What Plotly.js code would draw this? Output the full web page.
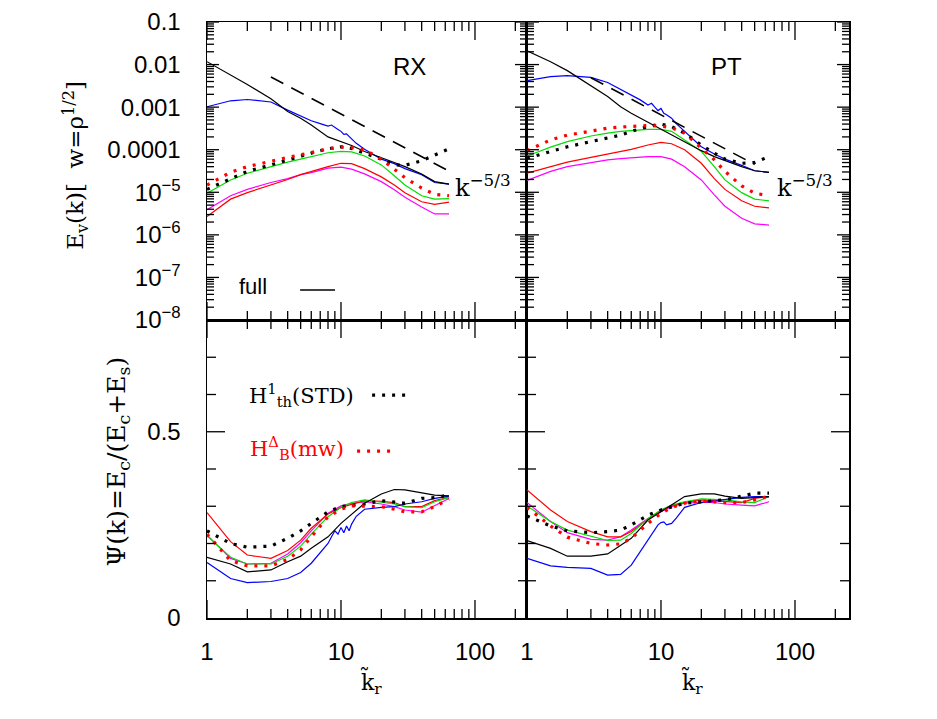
<!DOCTYPE html>
<html>
<head>
<meta charset="utf-8">
<script src="https://cdn.plot.ly/plotly-3.0.1.min.js"></script>
<style>
  html, body { margin: 0; padding: 0; background: #fff; }
  #chart { width: 937px; height: 719px; }
</style>
</head>
<body>
<div id="chart"></div>
<script>
// wavenumbers shared by most curves; blue curves are sampled a bit finer (they are noisy near k~10)
var k  = [1, 1.5, 2, 3, 4, 5, 6, 8, 10, 12, 15, 20, 25, 30, 40, 50, 64];
var kb = [1, 1.5, 2, 3, 4, 5, 6, 7, 8, 8.5, 9, 9.5, 10, 10.5, 11, 11.5, 12, 13, 15, 20, 25, 30, 40, 50, 64];

// --- velocity spectra, RX panel
var rxBlack    = [1.17e-2, 5.8e-3, 3.4e-3, 1.58e-3, 7.9e-4, 5.5e-4, 3.8e-4, 2.0e-4, 1.55e-4, 1.26e-4, 9.1e-5, 6.6e-5, 5.0e-5, 4.0e-5, 2.7e-5, 1.78e-5, 1.55e-5];
var rxBlue     = [1.02e-3, 1.41e-3, 1.51e-3, 1.32e-3, 8.5e-4, 6.2e-4, 4.8e-4, 4.1e-4, 3.6e-4, 3.8e-4, 3.3e-4, 3.0e-4, 2.7e-4, 2.3e-4, 2.35e-4, 2.0e-4, 1.8e-4, 1.41e-4, 1.02e-4, 6.0e-5, 4.7e-5, 3.6e-5, 2.6e-5, 1.7e-5, 1.55e-5];
var rxRedDot   = [1.48e-5, 2.95e-5, 4.0e-5, 5.5e-5, 6.6e-5, 7.6e-5, 8.5e-5, 1.05e-4, 1.15e-4, 1.12e-4, 1.0e-4, 6.0e-5, 3.5e-5, 2.2e-5, 1.26e-5, 8.9e-6, 8.3e-6];
var rxGreen    = [9.5e-6, 1.95e-5, 2.8e-5, 4.0e-5, 5.1e-5, 6.0e-5, 6.9e-5, 8.5e-5, 9.1e-5, 8.9e-5, 7.1e-5, 4.4e-5, 2.45e-5, 1.48e-5, 8.3e-6, 6.9e-6, 7.1e-6];
var rxBlackDot = [1.17e-5, 2.1e-5, 3.1e-5, 4.4e-5, 5.8e-5, 6.9e-5, 8.3e-5, 1.05e-4, 1.17e-4, 1.07e-4, 8.3e-5, 6.0e-5, 4.4e-5, 4.3e-5, 5.5e-5, 7.6e-5, 1.05e-4];
var rxMagenta  = [3.9e-6, 8.3e-6, 1.17e-5, 1.7e-5, 2.1e-5, 2.6e-5, 2.9e-5, 3.7e-5, 3.9e-5, 3.5e-5, 2.7e-5, 1.78e-5, 1.15e-5, 7.6e-6, 4.5e-6, 3.1e-6, 3.1e-6];
var rxRed      = [2.7e-6, 6.9e-6, 9.8e-6, 1.48e-5, 2.0e-5, 2.6e-5, 3.1e-5, 4.0e-5, 4.8e-5, 4.7e-5, 3.6e-5, 2.3e-5, 1.48e-5, 9.8e-6, 6.0e-6, 5.2e-6, 5.9e-6];

// --- velocity spectra, PT panel
var ptBlack    = [2.1e-2, 1.17e-2, 7.2e-3, 3.2e-3, 1.78e-3, 1.02e-3, 7.2e-4, 4.4e-4, 3.0e-4, 2.2e-4, 1.55e-4, 9.5e-5, 6.9e-5, 5.5e-5, 4.0e-5, 3.2e-5, 2.95e-5];
var ptBlue     = [4.2e-3, 5.2e-3, 5.5e-3, 5.0e-3, 3.8e-3, 2.6e-3, 1.95e-3, 1.48e-3, 1.12e-3, 1.23e-3, 1.0e-3, 8.3e-4, 9.3e-4, 7.2e-4, 6.6e-4, 6.0e-4, 5.5e-4, 4.1e-4, 2.7e-4, 1.17e-4, 7.9e-5, 6.0e-5, 4.3e-5, 3.2e-5, 2.95e-5];
var ptRedDot   = [9.5e-5, 1.7e-4, 2.2e-4, 2.8e-4, 3.2e-4, 3.4e-4, 3.5e-4, 3.7e-4, 3.6e-4, 3.3e-4, 2.45e-4, 1.07e-4, 5.8e-5, 3.1e-5, 1.41e-5, 9.5e-6, 8.3e-6];
var ptGreen    = [7.1e-5, 1.15e-4, 1.55e-4, 2.1e-4, 2.45e-4, 2.7e-4, 2.8e-4, 3.0e-4, 3.0e-4, 2.7e-4, 1.7e-4, 9.1e-5, 4.0e-5, 1.95e-5, 9.8e-6, 6.9e-6, 6.3e-6];
var ptBlackDot = [6.3e-5, 9.1e-5, 1.17e-4, 1.55e-4, 1.86e-4, 2.2e-4, 2.7e-4, 3.5e-4, 4.0e-4, 3.5e-4, 2.45e-4, 1.29e-4, 8.3e-5, 6.0e-5, 4.8e-5, 5.0e-5, 6.9e-5];
var ptRed      = [2.8e-5, 4.0e-5, 5.1e-5, 6.6e-5, 7.9e-5, 9.1e-5, 1.02e-4, 1.29e-4, 1.48e-4, 1.38e-4, 1.0e-4, 4.8e-5, 2.1e-5, 1.17e-5, 6.3e-6, 4.7e-6, 4.3e-6];
var ptMagenta  = [1.9e-5, 3.1e-5, 4.0e-5, 5.0e-5, 5.8e-5, 6.2e-5, 6.5e-5, 6.9e-5, 6.9e-5, 6.0e-5, 4.0e-5, 1.95e-5, 8.7e-6, 4.7e-6, 2.45e-6, 1.82e-6, 1.7e-6];

// k^-5/3 guide lines (end points)
var rxRefK = [3, 62];
var rxRef  = [5.1e-3, 3.3e-5];
var ptRefK = [3, 50];
var ptRef  = [4.9e-3, 4.5e-5];

// --- compressive ratio Psi(k), RX panel
var rxBlackPsi    = [0.163, 0.145, 0.124, 0.129, 0.151, 0.166, 0.187, 0.218, 0.254, 0.279, 0.308, 0.333, 0.345, 0.344, 0.335, 0.330, 0.328];
var rxBluePsi     = [0.149, 0.106, 0.095, 0.098, 0.106, 0.122, 0.147, 0.174, 0.200, 0.218, 0.234, 0.225, 0.243, 0.229, 0.247, 0.234, 0.252, 0.273, 0.292, 0.297, 0.299, 0.306, 0.312, 0.321, 0.327];
var rxRedPsi      = [0.283, 0.205, 0.169, 0.160, 0.181, 0.209, 0.241, 0.279, 0.297, 0.306, 0.315, 0.313, 0.310, 0.299, 0.299, 0.315, 0.324];
var rxGreenPsi    = [0.220, 0.163, 0.145, 0.145, 0.166, 0.193, 0.225, 0.272, 0.297, 0.310, 0.317, 0.310, 0.306, 0.299, 0.296, 0.312, 0.324];
var rxMagentaPsi  = [0.223, 0.160, 0.145, 0.147, 0.172, 0.202, 0.234, 0.281, 0.301, 0.308, 0.312, 0.306, 0.299, 0.290, 0.284, 0.301, 0.321];
var rxRedDotPsi   = [0.225, 0.154, 0.140, 0.140, 0.157, 0.183, 0.218, 0.272, 0.292, 0.301, 0.300, 0.299, 0.292, 0.285, 0.285, 0.299, 0.319];
var rxBlackDotPsi = [0.234, 0.200, 0.190, 0.193, 0.214, 0.234, 0.254, 0.285, 0.299, 0.302, 0.306, 0.315, 0.312, 0.308, 0.321, 0.323, 0.330];

// --- compressive ratio Psi(k), PT panel
var ptBlackPsi    = [0.208, 0.187, 0.166, 0.166, 0.172, 0.196, 0.214, 0.263, 0.285, 0.303, 0.326, 0.333, 0.333, 0.327, 0.321, 0.323, 0.326];
var ptBluePsi     = [0.160, 0.140, 0.136, 0.133, 0.115, 0.117, 0.142, 0.178, 0.209, 0.225, 0.240, 0.250, 0.256, 0.258, 0.250, 0.251, 0.254, 0.268, 0.297, 0.310, 0.315, 0.318, 0.324, 0.326, 0.326];
var ptRedPsi      = [0.344, 0.290, 0.259, 0.232, 0.218, 0.218, 0.232, 0.265, 0.290, 0.301, 0.310, 0.317, 0.315, 0.314, 0.310, 0.321, 0.326];
var ptGreenPsi    = [0.301, 0.259, 0.236, 0.220, 0.208, 0.209, 0.227, 0.267, 0.290, 0.303, 0.312, 0.320, 0.318, 0.317, 0.312, 0.310, 0.326];
var ptMagentaPsi  = [0.310, 0.259, 0.229, 0.211, 0.209, 0.218, 0.236, 0.267, 0.285, 0.299, 0.308, 0.311, 0.310, 0.306, 0.303, 0.301, 0.312];
var ptRedDotPsi   = [0.297, 0.247, 0.217, 0.200, 0.196, 0.199, 0.214, 0.254, 0.281, 0.297, 0.308, 0.314, 0.312, 0.310, 0.310, 0.317, 0.327];
var ptBlackDotPsi = [0.274, 0.247, 0.234, 0.229, 0.232, 0.236, 0.250, 0.276, 0.290, 0.299, 0.308, 0.312, 0.315, 0.317, 0.327, 0.335, 0.335];

// y tick labels of the spectrum axis
var eTickVals = [1e-8, 1e-7, 1e-6, 1e-5, 1e-4, 1e-3, 1e-2, 1e-1];
var eTickText = ["10<sup>\u22128</sup>", "10<sup>\u22127</sup>", "10<sup>\u22126</sup>", "10<sup>\u22125</sup>",
                 "0.0001", "0.001", "0.01", "0.1"];

var BLUE = "#0000ff", RED = "#ff0000", GREEN = "#00dd00", MAG = "#ff00ff";
var DOTS = "3px,7px";

function curve(x, y, xa, ya, color, dotted) {
  return {
    x: x, y: y, xaxis: xa, yaxis: ya, type: "scatter", mode: "lines",
    line: dotted ? {color: color, width: 3.2, dash: DOTS} : {color: color, width: 1.2},
    hoverinfo: "skip"
  };
}

var data = [
  curve(k, rxMagenta, "x", "y", MAG), curve(k, rxRed, "x", "y", RED),
  curve(k, rxGreen, "x", "y", GREEN), curve(kb, rxBlue, "x", "y", BLUE),
  curve(k, rxBlack, "x", "y", "#000"),
  curve(k, rxBlackDot, "x", "y", "#000", true), curve(k, rxRedDot, "x", "y", RED, true),
  {x: rxRefK, y: rxRef, xaxis: "x", yaxis: "y", mode: "lines",
   line: {color: "#000", width: 1.6, dash: "14px,9px"}, hoverinfo: "skip"},

  curve(k, ptMagenta, "x2", "y2", MAG), curve(k, ptRed, "x2", "y2", RED),
  curve(k, ptGreen, "x2", "y2", GREEN), curve(kb, ptBlue, "x2", "y2", BLUE),
  curve(k, ptBlack, "x2", "y2", "#000"),
  curve(k, ptBlackDot, "x2", "y2", "#000", true), curve(k, ptRedDot, "x2", "y2", RED, true),
  {x: ptRefK, y: ptRef, xaxis: "x2", yaxis: "y2", mode: "lines",
   line: {color: "#000", width: 1.6, dash: "14px,9px"}, hoverinfo: "skip"},

  curve(k, rxMagentaPsi, "x3", "y3", MAG), curve(k, rxRedPsi, "x3", "y3", RED),
  curve(k, rxGreenPsi, "x3", "y3", GREEN), curve(kb, rxBluePsi, "x3", "y3", BLUE),
  curve(k, rxBlackPsi, "x3", "y3", "#000"),
  curve(k, rxBlackDotPsi, "x3", "y3", "#000", true), curve(k, rxRedDotPsi, "x3", "y3", RED, true),

  curve(k, ptMagentaPsi, "x4", "y4", MAG), curve(k, ptRedPsi, "x4", "y4", RED),
  curve(k, ptGreenPsi, "x4", "y4", GREEN), curve(kb, ptBluePsi, "x4", "y4", BLUE),
  curve(k, ptBlackPsi, "x4", "y4", "#000"),
  curve(k, ptBlackDotPsi, "x4", "y4", "#000", true), curve(k, ptRedDotPsi, "x4", "y4", RED, true)
];

var SANS = "Liberation Sans, Arial, sans-serif";
var SERIF = "DejaVu Serif, Liberation Serif, serif";

// inside ticks of the axes do not show here, so the tick marks are drawn as
// shapes in each panel's domain, placed from the axis ranges
var common = {
  ticks: "", showline: true, linecolor: "#000", linewidth: 1.5, mirror: true,
  showgrid: false, zeroline: false,
  tickfont: {family: SANS, size: 24, color: "#000"}
};
function extend(a) { for (var p in common) if (!(p in a)) a[p] = common[p]; return a; }

var K_HI = {x: 2.388, x2: 2.403, x3: 2.388, x4: 2.403};   // log10 of the right end of k
var E_RANGE = [-8, -1], PSI_RANGE = [0, 0.8];

function kAxis(domain, anchor, labels, name) {
  return extend({
    type: "log", domain: domain, anchor: anchor, range: [0, K_HI[name]],
    tickmode: "array", tickvals: [1, 10, 100], ticktext: ["1", "10", "100"],
    showticklabels: labels, ticklabelstandoff: 12
  });
}
function eAxis(domain, anchor, labels) {
  return extend({
    type: "log", domain: domain, anchor: anchor, range: E_RANGE,
    tickmode: "array", tickvals: eTickVals, ticktext: eTickText, showticklabels: labels,
    ticklabelstandoff: 20
  });
}
function psiAxis(domain, anchor, labels) {
  return extend({
    domain: domain, anchor: anchor, range: PSI_RANGE,
    tickmode: "array", tickvals: [0, 0.5], ticktext: ["0", "0.5"], showticklabels: labels,
    ticklabelstandoff: 20
  });
}

var LEFT = [0, 0.4984], RIGHT = [0.4984, 1], TOP = [0.5, 1], BOT = [0, 0.5];
var PANEL_W = {x: 320, x2: 322, x3: 320, x4: 322};   // px widths of the panels
var PANEL_H = 298;                                     // px height of every panel

// tick positions (axis values)
var kTicks = [], kMajor = [1, 10, 100];
[1, 10, 100].forEach(function (d) { for (var m = 1; m <= 9; m++) if (m * d < 245) kTicks.push(m * d); });
var eTicks = [];
for (var e = -8; e < -1; e++) for (var m = 1; m <= 9; m++) eTicks.push(m * Math.pow(10, e));
eTicks.push(0.1);
var psiTicks = [0.1, 0.2, 0.3, 0.4, 0.5, 0.6, 0.7];

var tickShapes = [];
function tickLine(xref, yref, x0, x1, y0, y1) {
  tickShapes.push({type: "line", xref: xref, yref: yref, x0: x0, x1: x1, y0: y0, y1: y1,
                   line: {color: "#000", width: 1.3}, layer: "above"});
}
function xTicks(xa, ya) {
  kTicks.forEach(function (v) {
    var f = (kMajor.indexOf(v) >= 0 ? 18 : 9) / PANEL_H;
    var p = Math.log10(v) / K_HI[xa];
    tickLine(xa + " domain", ya + " domain", p, p, 0, f);
    tickLine(xa + " domain", ya + " domain", p, p, 1, 1 - f);
  });
}
function yTicks(xa, ya, vals, isMajor, majorLen, minorLen, toFrac) {
  vals.forEach(function (v) {
    var f = (isMajor(v) ? majorLen : minorLen) / PANEL_W[xa], p = toFrac(v);
    tickLine(xa + " domain", ya + " domain", 0, f, p, p);
    tickLine(xa + " domain", ya + " domain", 1, 1 - f, p, p);
  });
}
function isDecade(v) { return Math.abs(Math.log10(v) - Math.round(Math.log10(v))) < 1e-9; }
function isHalf(v) { return Math.abs(v - 0.5) < 1e-9; }
function eFrac(v) { return (Math.log10(v) - E_RANGE[0]) / (E_RANGE[1] - E_RANGE[0]); }
function psiFrac(v) { return (v - PSI_RANGE[0]) / (PSI_RANGE[1] - PSI_RANGE[0]); }

xTicks("x", "y"); xTicks("x2", "y2"); xTicks("x3", "y3"); xTicks("x4", "y4");
yTicks("x", "y", eTicks, isDecade, 12, 7, eFrac);
yTicks("x2", "y2", eTicks, isDecade, 12, 7, eFrac);
yTicks("x3", "y3", psiTicks, isHalf, 18, 9, psiFrac);
yTicks("x4", "y4", psiTicks, isHalf, 18, 9, psiFrac);

function note(text, xref, yref, x, y, opts) {
  var a = {text: text, xref: xref, yref: yref, x: x, y: y, showarrow: false,
           xanchor: "center", yanchor: "middle",
           font: {family: SANS, size: 24, color: "#000"}};
  for (var p in opts) a[p] = opts[p];
  return a;
}

var layout = {
  width: 937, height: 719,
  margin: {l: 207, r: 88, t: 22, b: 101},
  paper_bgcolor: "#fff", plot_bgcolor: "#fff",
  showlegend: false,
  xaxis: kAxis(LEFT, "y", false, "x"),
  yaxis: eAxis(TOP, "x", true),
  xaxis2: kAxis(RIGHT, "y2", false, "x2"),
  yaxis2: eAxis(TOP, "x2", false),
  xaxis3: kAxis(LEFT, "y3", true, "x3"),
  yaxis3: psiAxis(BOT, "x3", true),
  xaxis4: kAxis(RIGHT, "y4", true, "x4"),
  yaxis4: psiAxis(BOT, "x4", false),
  annotations: [
    note("RX", "x domain", "y domain", 0.634, 0.849),
    note("PT", "x2 domain", "y2 domain", 0.621, 0.849),
    note("k<sup>\u22125/3</sup>", "x domain", "y domain", 0.769, 0.45,
         {xanchor: "left", font: {family: SERIF, size: 24, color: "#000"}}),
    note("k<sup>\u22125/3</sup>", "x2 domain", "y2 domain", 0.770, 0.45,
         {xanchor: "left", font: {family: SERIF, size: 24, color: "#000"}}),
    note("full", "x domain", "y domain", 0.094, 0.111, {xanchor: "left", font: {family: SANS, size: 22, color: "#000"}}),
    note("H<sup>1</sup><sub>th</sub>(STD)", "x3 domain", "y3 domain", 0.125, 0.748,
         {xanchor: "left", font: {family: SERIF, size: 21, color: "#000"}}),
    note("H<sup>\u0394</sup><sub>B</sub>(mw)", "x3 domain", "y3 domain", 0.128, 0.570,
         {xanchor: "left", font: {family: SERIF, size: 21, color: RED}}),
    // axis titles
    note("E<sub>v</sub>(k)[  w=\u03c1<sup>1/2</sup>]", "paper", "paper", -0.206, 0.76,
         {textangle: -90, font: {family: SERIF, size: 23, color: "#000"}}),
    note("\u03a8(k)=E<sub>c</sub>/(E<sub>c</sub>+E<sub>s</sub>)", "paper", "paper", -0.139, 0.262,
         {textangle: -90, font: {family: SERIF, size: 25, color: "#000"}}),
    note("k\u0303<sub>r</sub>", "paper", "paper", 0.2555, -0.107, {font: {family: SERIF, size: 22, color: "#000"}}),
    note("k\u0303<sub>r</sub>", "paper", "paper", 0.7555, -0.107, {font: {family: SERIF, size: 22, color: "#000"}})
  ],
  shapes: [
    {type: "line", xref: "x domain", yref: "y domain", x0: 0.291, x1: 0.40, y0: 0.1007, y1: 0.1007,
     line: {color: "#000", width: 1.3}},
    {type: "line", xref: "x3 domain", yref: "y3 domain", x0: 0.516, x1: 0.625, y0: 0.748, y1: 0.748,
     line: {color: "#000", width: 3.2, dash: DOTS}},
    {type: "line", xref: "x3 domain", yref: "y3 domain", x0: 0.469, x1: 0.581, y0: 0.560, y1: 0.560,
     line: {color: RED, width: 3.2, dash: DOTS}}
  ].concat(tickShapes)
};

Plotly.newPlot("chart", data, layout, {staticPlot: true});
</script>
</body>
</html>
